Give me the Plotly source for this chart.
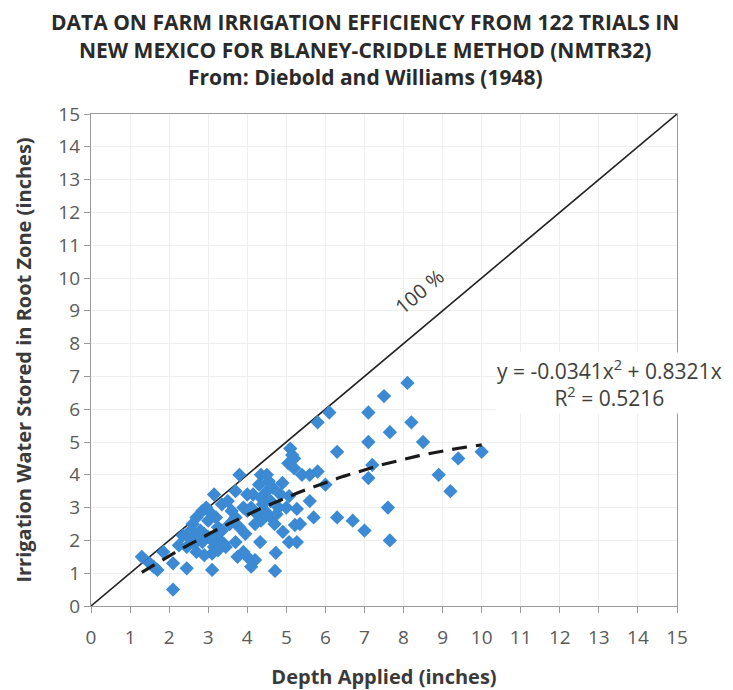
import plotly.graph_objects as go
import numpy as np

# Depth applied (inches) and water stored in root zone (inches), 122 trials
depth_applied = [
    1.3, 1.5, 1.7, 1.85, 2.1, 2.1, 2.45, 2.25, 2.5, 1.6,
    2.6, 2.7, 2.85, 2.95, 2.55, 2.8, 3.0, 3.1, 3.15, 3.1, 2.9, 2.7, 2.65, 2.45, 2.85,
    3.2, 3.25, 3.35, 3.15, 3.1, 3.3, 3.4, 3.0, 2.9, 3.2, 3.35, 3.05, 2.75, 3.45, 3.25,
    3.8, 3.7, 3.9, 3.8, 4.2, 4.35, 4.15, 4.35, 4.4, 4.35, 4.5, 3.7, 3.9, 3.75, 4.0,
    4.2, 4.1, 4.33, 3.6, 4.0, 4.1, 4.5, 4.6, 4.0, 3.55, 4.25, 4.45, 3.95, 4.6, 4.7,
    4.66, 4.9, 5.1, 5.2, 5.05, 5.07, 5.27, 5.22, 4.91, 5.07, 5.27, 4.73, 4.71, 5.4,
    5.35, 4.8, 5.0, 4.55, 4.85, 5.15, 4.75,
    5.8, 6.1, 7.1, 7.5, 8.1, 8.2, 7.65, 6.3, 7.1, 8.5, 10.0, 9.4, 7.2, 7.1, 8.9, 9.2,
    5.8, 6.0, 5.6, 7.6, 5.7, 6.3, 6.7, 7.0, 7.65, 5.6,
    2.35, 3.5, 4.3, 5.2, 3.7,
]
water_stored = [
    1.5, 1.3, 1.1, 1.65, 1.3, 0.5, 1.15, 1.85, 2.1, 1.2,
    2.5, 2.7, 2.9, 3.0, 2.3, 2.3, 2.1, 2.0, 1.8, 1.6, 1.55, 1.65, 1.9, 1.8, 1.95,
    2.7, 2.4, 3.1, 3.4, 1.1, 2.0, 1.9, 2.6, 2.2, 2.1, 2.3, 2.85, 2.2, 1.8, 1.7,
    4.0, 2.7, 3.0, 2.4, 2.5, 2.6, 3.4, 3.3, 3.1, 4.0, 4.0, 1.95, 1.65, 1.5, 1.5,
    1.4, 1.2, 1.95, 2.9, 2.9, 3.0, 3.5, 3.2, 3.4, 2.5, 2.8, 2.9, 2.2, 2.7, 2.5,
    3.6, 3.75, 4.8, 4.5, 4.35, 3.35, 2.96, 2.47, 2.26, 1.95, 1.95, 1.62, 1.07, 4.0,
    2.5, 3.0, 3.0, 3.8, 3.4, 4.6, 2.8,
    5.6, 5.9, 5.9, 6.4, 6.8, 5.6, 5.3, 4.7, 5.0, 5.0, 4.7, 4.5, 4.3, 3.9, 4.0, 3.5,
    4.1, 3.7, 3.2, 3.0, 2.7, 2.7, 2.6, 2.3, 2.0, 4.0,
    2.15, 3.2, 3.7, 4.2, 3.5,
]

# Polynomial trend reported on chart
coef_a = -0.0341
coef_b = 0.8321
trend_x_range = [1.3, 10.0]

one_to_one = [0, 15]
ticks = list(range(0, 16))

fig = go.Figure()

fig.add_trace(go.Scatter(
    x=one_to_one, y=one_to_one, mode="lines",
    line=dict(color="#222222", width=1.6), hoverinfo="skip", showlegend=False))

fig.add_trace(go.Scatter(
    x=depth_applied, y=water_stored, mode="markers",
    marker=dict(symbol="diamond", size=11, color="#3b8ad3"),
    showlegend=False))

tx = np.linspace(trend_x_range[0], trend_x_range[1], 60)
ty = coef_a * tx**2 + coef_b * tx
fig.add_trace(go.Scatter(
    x=tx, y=ty, mode="lines",
    line=dict(color="#1a1a1a", width=3.2, dash="15px,9px"),
    hoverinfo="skip", showlegend=False))

font_family = "Open Sans"
axis_common = dict(
    range=[0, 15], tickvals=ticks, showgrid=True, gridcolor="#efefef", gridwidth=1,
    showline=True, linecolor="#9a9a9a", linewidth=1.3, mirror=True,
    ticks="outside", ticklen=6, tickcolor="#9a9a9a", automargin=False,
    tickfont=dict(family=font_family, size=19, color="#5a5a5a"), zeroline=False,
)

fig.update_xaxes(**axis_common, ticklabelstandoff=8,
                 title=dict(text="<b>Depth Applied (inches)</b>", standoff=21,
                            font=dict(family=font_family, size=20, color="#3a3a3a")))
fig.update_yaxes(**axis_common,
                 title=dict(text="<b>Irrigation Water Stored in Root Zone (inches)</b>", standoff=21,
                            font=dict(family=font_family, size=20, color="#3a3a3a")))

title_lines = [
    ("<b>DATA ON FARM IRRIGATION EFFICIENCY FROM 122 TRIALS IN</b>", 1.187),
    ("<b>NEW MEXICO FOR BLANEY-CRIDDLE METHOD (NMTR32)</b>", 1.130),
    ("<b>From: Diebold and Williams (1948)</b>", 1.075),
]
for txt, yy in title_lines:
    fig.add_annotation(text=txt, xref="paper", yref="paper", x=0.4676, y=yy,
                       showarrow=False, xanchor="center", yanchor="middle",
                       font=dict(family=font_family, size=21, color="#2a2a2a"))

fig.add_annotation(text="100 %", x=8.4, y=9.6, xref="x", yref="y", showarrow=False,
                   textangle=-40, font=dict(family=font_family, size=20, color="#404040"))

fig.add_annotation(text="y = -0.0341x<sup>2</sup> + 0.8321x<br>R<sup>2</sup> = 0.5216",
                   x=13.26, y=6.8, xref="x", yref="y", showarrow=False,
                   align="center", bgcolor="white",
                   font=dict(family=font_family, size=21, color="#404040"))

fig.update_layout(
    width=725, height=682,
    margin=dict(l=83, r=56, t=106, b=84),
    plot_bgcolor="white", paper_bgcolor="white",
)

fig.write_html("out.html")
